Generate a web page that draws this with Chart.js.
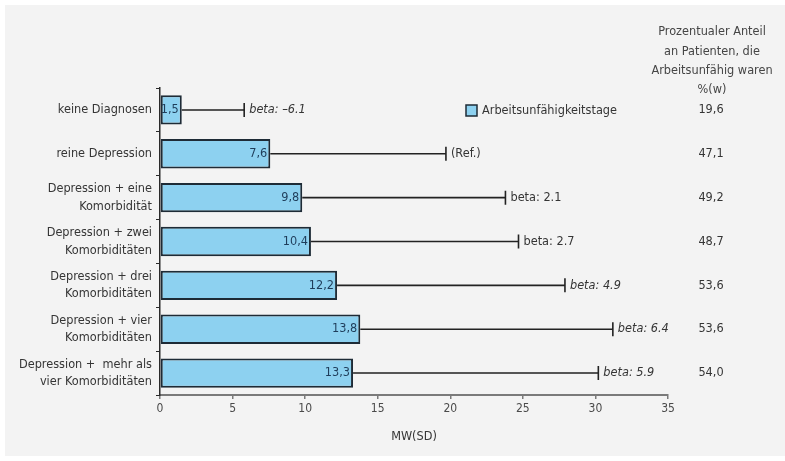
<!DOCTYPE html>
<html>
<head>
<meta charset="utf-8">
<script src="https://cdn.jsdelivr.net/npm/chart.js@4/dist/chart.umd.min.js"></script>
<style>
  html, body { margin: 0; padding: 0; background: #ffffff; }
  #wrap { width: 785px; height: 461px; }
</style>
</head>
<body>
<div id="wrap"><canvas id="chart" width="785" height="461"></canvas></div>
<script>
// Groups of patients (y axis)
const categories = [
  ["keine Diagnosen"],
  ["reine Depression"],
  ["Depression + eine", "Komorbidität"],
  ["Depression + zwei", "Komorbiditäten"],
  ["Depression + drei", "Komorbiditäten"],
  ["Depression + vier", "Komorbiditäten"],
  ["Depression +  mehr als", "vier Komorbiditäten"]
];
// Mean days of incapacity for work (MW) and standard deviation (SD)
const meanDays = [1.5, 7.6, 9.8, 10.4, 12.2, 13.8, 13.3];
const sdDays = [4.3, 12.1, 14.0, 14.3, 15.7, 17.4, 16.9];
// Regression coefficients printed next to the whiskers
const betaLabels = ["beta: \u20136.1", "(Ref.)", "beta: 2.1", "beta: 2.7", "beta: 4.9", "beta: 6.4", "beta: 5.9"];
const betaItalic = [true, false, false, false, true, true, true];
// Share of patients who were unable to work, %(w)
const shareUnable = ["19,6", "47,1", "49,2", "48,7", "53,6", "53,6", "54,0"];
const shareHeader = ["Prozentualer Anteil", "an Patienten, die", "Arbeitsunf\u00e4hig waren", "%(w)"];
const xTicks = [0, 5, 10, 15, 20, 25, 30, 35];

const FONT = "'DejaVu Sans Condensed', 'Liberation Sans Narrow', 'DejaVu Sans', sans-serif";
const SIZE = 12.6;
const BAR_FILL = "#8dd1f0";
const BAR_EDGE = "#1e2b36";
const TEXT = "#353535";

const fmt = v => v.toFixed(1).replace(".", ",");

const decorations = {
  id: "decorations",
  beforeDraw(chart) {
    const ctx = chart.ctx;
    ctx.save();
    ctx.fillStyle = "#ffffff";
    ctx.fillRect(0, 0, chart.width, chart.height);
    ctx.fillStyle = "#f3f3f3";
    ctx.fillRect(5, 5, chart.width - 5, chart.height - 10);
    ctx.restore();
  },
  afterDatasetsDraw(chart) {
    const ctx = chart.ctx;
    const xs = chart.scales.x;
    const meta = chart.getDatasetMeta(0);
    ctx.save();
    meta.data.forEach((bar, i) => {
      const y = bar.y;
      const x0 = xs.getPixelForValue(meanDays[i]);
      const x1 = xs.getPixelForValue(meanDays[i] + sdDays[i]);
      // whisker
      ctx.strokeStyle = "#222222";
      ctx.lineWidth = 1.6;
      ctx.beginPath();
      ctx.moveTo(x0, y);
      ctx.lineTo(x1, y);
      ctx.moveTo(x1, y - 7);
      ctx.lineTo(x1, y + 7);
      ctx.stroke();
      // value inside the bar
      ctx.fillStyle = "#1f3d5a";
      ctx.font = SIZE + "px " + FONT;
      ctx.textAlign = "right";
      ctx.textBaseline = "middle";
      ctx.fillText(fmt(meanDays[i]), x0 - 3, y);
      // beta label
      ctx.fillStyle = TEXT;
      ctx.font = (betaItalic[i] ? "italic " : "") + SIZE + "px " + FONT;
      ctx.textAlign = "left";
      ctx.fillText(betaLabels[i], x1 + 5, y);
      // share column
      ctx.font = SIZE + "px " + FONT;
      ctx.textAlign = "center";
      ctx.fillText(shareUnable[i], 711, y);
    });
    // column header
    ctx.fillStyle = "#454545";
    ctx.font = SIZE + "px " + FONT;
    ctx.textAlign = "center";
    shareHeader.forEach((t, k) => ctx.fillText(t, 712, 32 + k * 19.3));
    // legend
    ctx.fillStyle = BAR_FILL;
    ctx.fillRect(466, 105, 11, 11);
    ctx.strokeStyle = BAR_EDGE;
    ctx.lineWidth = 1.5;
    ctx.strokeRect(466, 105, 11, 11);
    ctx.fillStyle = TEXT;
    ctx.textAlign = "left";
    ctx.fillText("Arbeitsunf\u00e4higkeitstage", 482, 111);
    // x axis title
    ctx.textAlign = "center";
    ctx.fillText("MW(SD)", (xs.left + xs.right) / 2, 437);
    ctx.restore();
  }
};

new Chart(document.getElementById("chart"), {
  type: "bar",
  data: {
    labels: categories,
    datasets: [{
      label: "Arbeitsunf\u00e4higkeitstage",
      data: meanDays,
      backgroundColor: BAR_FILL,
      borderColor: BAR_EDGE,
      borderWidth: 2,
      borderSkipped: false,
      barPercentage: 0.67,
      categoryPercentage: 1.0
    }]
  },
  options: {
    indexAxis: "y",
    responsive: false,
    animation: false,
    devicePixelRatio: 1,
    layout: { padding: { top: 88, right: 117, bottom: 0, left: 0 } },
    plugins: { legend: { display: false }, tooltip: { enabled: false } },
    scales: {
      x: {
        min: 0,
        max: 35,
        afterFit(scale) { scale.height = 66; },
        afterBuildTicks(scale) { scale.ticks = xTicks.map(v => ({ value: v })); },
        border: { display: true, color: "#7a7a7a", width: 2 },
        grid: { drawOnChartArea: false, drawTicks: true, tickLength: 4, color: "#7a7a7a", lineWidth: 1.5 },
        ticks: { color: "#4a4a4a", padding: 3, font: { family: FONT, size: 12 } }
      },
      y: {
        afterFit(scale) { scale.width = 160; },
        border: { display: true, color: "#2a2a2a", width: 1.5 },
        grid: { offset: true, drawOnChartArea: false, drawTicks: true, tickLength: 4, color: "#2a2a2a", lineWidth: 1 },
        ticks: { color: TEXT, padding: 4, font: { family: FONT, size: SIZE, lineHeight: 1.4 } }
      }
    }
  },
  plugins: [decorations]
});
</script>
</body>
</html>
